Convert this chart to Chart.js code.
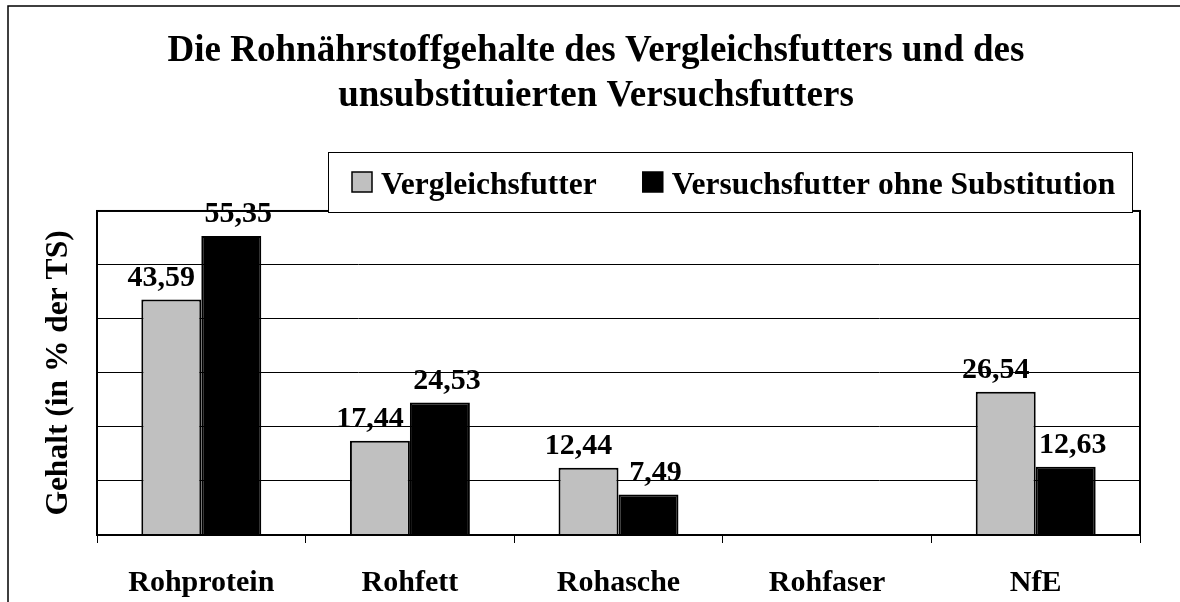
<!DOCTYPE html>
<html>
<head>
<meta charset="utf-8" />
<title>Rohnährstoffgehalte</title>
<script src="https://cdn.jsdelivr.net/npm/chart.js"></script>
<style>
  html, body { margin: 0; padding: 0; background: #fff; }
  #wrap { width: 1180px; height: 602px; }
</style>
</head>
<body>
<div id="wrap"><canvas id="chart" width="1180" height="602"></canvas></div>
<script>
const categories = ['Rohprotein', 'Rohfett', 'Rohasche', 'Rohfaser', 'NfE'];
const vergleichsfutter = [43.59, 17.44, 12.44, null, 26.54];
const versuchsfutter = [55.35, 24.53, 7.49, null, 12.63];
const seriesNames = ['Vergleichsfutter', 'Versuchsfutter ohne Substitution'];
const titleLines = [
  'Die Rohnährstoffgehalte des Vergleichsfutters und des',
  'unsubstituierten Versuchsfutters'
];
const yTitle = 'Gehalt (in % der TS)';

const SERIF = '"Liberation Serif", "Times New Roman", serif';

const fmt = (v) => v.toFixed(2).replace('.', ',');

// outer frame of the original picture (only top and left edges visible)
const framePlugin = {
  id: 'frame',
  beforeDraw(chart) {
    const ctx = chart.ctx;
    ctx.save();
    ctx.fillStyle = '#fff';
    ctx.fillRect(0, 0, chart.width, chart.height);
    ctx.strokeStyle = '#000';
    ctx.lineWidth = 1.5;
    ctx.strokeRect(8, 6, chart.width + 20, chart.height + 20);
    ctx.restore();
  },
  afterDraw(chart) {
    const a = chart.chartArea;
    const ctx = chart.ctx;
    ctx.save();
    ctx.strokeStyle = '#000';
    ctx.lineWidth = 2;
    ctx.strokeRect(a.left, a.top, a.right - a.left, a.bottom - a.top);
    ctx.restore();
  }
};

// value labels above bars
const labelPlugin = {
  id: 'barLabels',
  afterDatasetsDraw(chart) {
    const ctx = chart.ctx;
    const shift = [-10, 7];
    ctx.save();
    ctx.font = 'bold 30px ' + SERIF;
    ctx.fillStyle = '#000';
    ctx.textAlign = 'center';
    ctx.textBaseline = 'alphabetic';
    chart.data.datasets.forEach((ds, di) => {
      chart.getDatasetMeta(di).data.forEach((bar, i) => {
        const v = ds.data[i];
        if (v == null) return;
        ctx.fillText(fmt(v), bar.x + shift[di], bar.y - 14);
      });
    });
    ctx.restore();
  }
};

// boxed legend like the original
const legendBoxPlugin = {
  id: 'legendBox',
  afterDraw(chart) {
    const ctx = chart.ctx;
    const box = { left: 328, right: 1132, top: 152, bottom: 212 };
    ctx.save();
    ctx.fillStyle = '#fff';
    ctx.fillRect(box.left, box.top, box.right - box.left, box.bottom - box.top);
    ctx.strokeStyle = '#000';
    ctx.lineWidth = 1;
    ctx.strokeRect(box.left + 0.5, box.top + 0.5, box.right - box.left, box.bottom - box.top);
    ctx.font = 'bold 31.5px ' + SERIF;
    ctx.textBaseline = 'alphabetic';
    const midY = (box.top + box.bottom) / 2;
    let x = box.left + 24;
    chart.data.datasets.forEach((ds, di) => {
      ctx.fillStyle = ds.backgroundColor;
      ctx.fillRect(x, midY - 10, 20, 20);
      ctx.strokeStyle = '#000';
      ctx.lineWidth = 1.5;
      ctx.strokeRect(x, midY - 10, 20, 20);
      x += 29;
      ctx.fillStyle = '#000';
      ctx.fillText(ds.label, x, midY + 12);
      x += ctx.measureText(ds.label).width + 46;
    });
    ctx.restore();
  }
};

new Chart(document.getElementById('chart'), {
  type: 'bar',
  data: {
    labels: categories,
    datasets: [
      {
        label: seriesNames[0],
        data: vergleichsfutter,
        backgroundColor: '#c0c0c0',
        borderColor: '#000',
        borderWidth: 2,
        borderSkipped: 'bottom'
      },
      {
        label: seriesNames[1],
        data: versuchsfutter,
        backgroundColor: '#000',
        borderColor: '#000',
        borderWidth: 2,
        borderSkipped: 'bottom'
      }
    ]
  },
  options: {
    responsive: false,
    animation: false,
    devicePixelRatio: 1,
    layout: { padding: { left: 12, right: 0, top: 0, bottom: 0 } },
    datasets: { bar: { categoryPercentage: 0.575, barPercentage: 1.0 } },
    plugins: {
      legend: { display: false },
      tooltip: { enabled: false },
      title: {
        display: true,
        text: titleLines,
        color: '#000',
        font: { family: SERIF, size: 37, weight: 'bold', lineHeight: 1.22 },
        padding: { top: 29, bottom: 91.7 }
      }
    },
    scales: {
      x: {
        grid: { display: true, drawOnChartArea: false, drawTicks: true, tickLength: 8, color: '#000', lineWidth: 1 },
        border: { display: true, color: '#000', width: 2 },
        ticks: { color: '#000', font: { family: SERIF, size: 30, weight: 'bold' }, padding: 22, maxRotation: 0 },
        afterFit(scale) { scale.height = 67; }
      },
      y: {
        min: 0,
        max: 60,
        ticks: { display: false, stepSize: 10 },
        grid: { color: '#000', lineWidth: 1, drawTicks: false },
        border: { display: true, color: '#000', width: 2 },
        title: {
          display: true,
          text: yTitle,
          color: '#000',
          font: { family: SERIF, size: 31.5, weight: 'bold' },
          padding: { top: 28, bottom: 0 }
        },
        afterFit(scale) { scale.width = 85; }
      },
      // empty right-hand spacer so the plot ends where the original does
      yRight: {
        position: 'right',
        display: true,
        min: 0,
        max: 60,
        ticks: { display: false },
        grid: { display: false },
        border: { display: false },
        afterFit(scale) { scale.width = 40; }
      }
    }
  },
  plugins: [framePlugin, labelPlugin, legendBoxPlugin]
});
</script>
</body>
</html>
